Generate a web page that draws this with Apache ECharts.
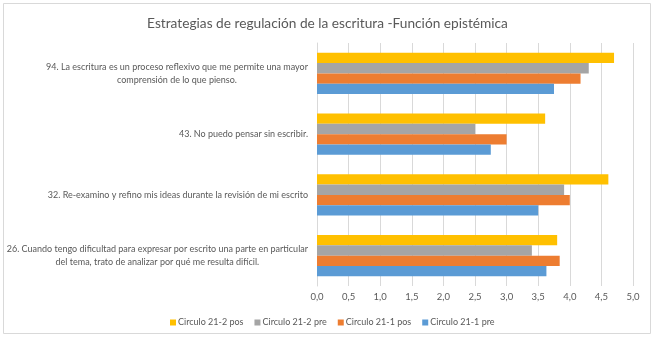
<!DOCTYPE html>
<html><head><meta charset="utf-8">
<script src="https://cdn.jsdelivr.net/npm/echarts@6/dist/echarts.min.js"></script>
<style>html,body{margin:0;padding:0;background:#fff}#c{width:655px;height:338px}</style>
</head><body><div id="c"></div>
<script>
// Categories bottom -> top
const categories = [
  "26. Cuando tengo dificultad para expresar por escrito una parte en particular\ndel tema, trato de analizar por qué me resulta difícil.",
  "32. Re-examino y refino mis ideas durante la revisión de mi escrito",
  "43. No puedo pensar sin escribir.",
  "94. La escritura es un proceso reflexivo que me permite una mayor\ncomprensión de lo que pienso."
];
const circulo211pre = [3.63, 3.50, 2.75, 3.75];
const circulo211pos = [3.84, 4.00, 3.00, 4.17];
const circulo212pre = [3.40, 3.91, 2.50, 4.30];
const circulo212pos = [3.80, 4.61, 3.61, 4.70];
const legendOrder = ["Circulo 21-2 pos", "Circulo 21-2 pre", "Circulo 21-1 pos", "Circulo 21-1 pre"];
const xTicks = {min: 0, max: 5, interval: 0.5};

const FONT = "Lato";
const TXT = "#595959";
const chart = echarts.init(document.getElementById('c'), null, {renderer: 'canvas'});
chart.setOption({
  backgroundColor: '#fff',
  animation: false,
  title: {
    text: "Estrategias de regulación de la escritura -Función epistémica",
    left: 'center', top: 12,
    textStyle: {fontFamily: FONT, fontSize: 13.7, fontWeight: 'normal', color: TXT}
  },
  graphic: [{
    type: 'rect', shape: {x: 3.5, y: 3.5, width: 647, height: 330},
    style: {fill: 'none', stroke: '#D9D9D9', lineWidth: 1}, silent: true, z: -1
  }],
  legend: {
    data: legendOrder,
    left: 165, top: 313,
    icon: 'rect', itemWidth: 6, itemHeight: 6, itemGap: 11,
    textStyle: {fontFamily: FONT, fontSize: 9, color: TXT, padding: [0, 0, 0, -3]}
  },
  grid: {left: 317, right: 22, top: 43, bottom: 52, containLabel: false, outerBoundsMode: 'none'},
  xAxis: {
    type: 'value', min: xTicks.min, max: xTicks.max, interval: xTicks.interval,
    axisLine: {show: false}, axisTick: {show: false},
    splitLine: {lineStyle: {color: '#D9D9D9', width: 1}},
    axisLabel: {fontFamily: FONT, fontSize: 9.5, color: TXT, margin: 6,
      formatter: v => v.toFixed(1).replace('.', ',')}
  },
  yAxis: {
    type: 'category', data: categories,
    axisLine: {show: true, lineStyle: {color: '#D9D9D9'}}, axisTick: {show: false},
    axisLabel: {
      margin: 9, color: TXT, fontFamily: FONT, fontSize: 9, lineHeight: 13,
      formatter: v => '{c|' + v + '}',
      rich: {c: {align: 'center', fontFamily: FONT, fontSize: 9, color: TXT, lineHeight: 13}}
    }
  },
  series: [
    {name: "Circulo 21-2 pos", type: 'bar', data: circulo212pos, itemStyle: {color: '#FFC000'}, barGap: '0%', barCategoryGap: '32%'},
    {name: "Circulo 21-2 pre", type: 'bar', data: circulo212pre, itemStyle: {color: '#A5A5A5'}},
    {name: "Circulo 21-1 pos", type: 'bar', data: circulo211pos, itemStyle: {color: '#ED7D31'}},
    {name: "Circulo 21-1 pre", type: 'bar', data: circulo211pre, itemStyle: {color: '#5B9BD5'}}
  ]
});
</script></body></html>
